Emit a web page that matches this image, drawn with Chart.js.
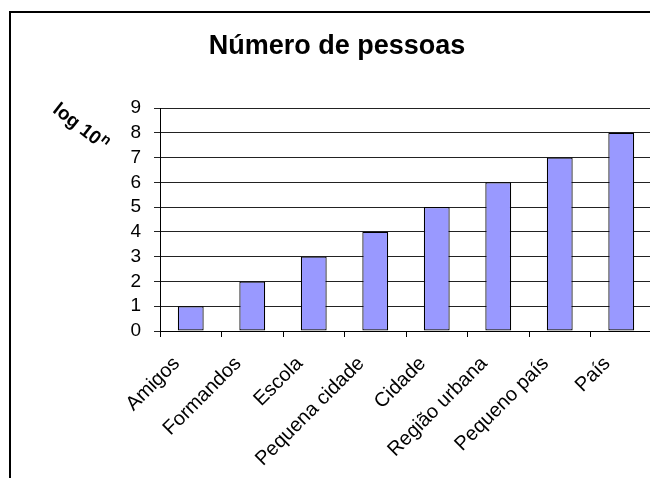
<!DOCTYPE html>
<html>
<head>
<meta charset="utf-8">
<script src="https://cdn.jsdelivr.net/npm/chart.js@4"></script>
<style>
html, body { margin: 0; padding: 0; overflow: hidden; background: #fff; width: 650px; height: 478px; }
#wrap { position: absolute; left: 0; top: 0; width: 670px; height: 500px; }
</style>
</head>
<body>
<div id="wrap"><canvas id="chart" width="670" height="500"></canvas></div>
<script>
// dados
const categories = ['Amigos', 'Formandos', 'Escola', 'Pequena cidade', 'Cidade', 'Região urbana', 'Pequeno país', 'País'];
const values = [1, 2, 3, 4, 5, 6, 7, 8];
const yMin = 0;
const yMax = 9;
const titleText = 'Número de pessoas';
const yLabelText = 'log 10';
const yLabelSup = 'n';

const FONT = "'Liberation Sans', Arial, sans-serif";

// moldura, titulo e rotulo do eixo
const decorPlugin = {
    id: 'decor',
    beforeDraw(chart) {
        const ctx = chart.ctx;
        ctx.save();
        ctx.fillStyle = '#fff';
        ctx.fillRect(0, 0, chart.width, chart.height);
        ctx.restore();
    },
    afterDraw(chart) {
        const ctx = chart.ctx;
        ctx.save();
        // border
        ctx.strokeStyle = '#000';
        ctx.lineWidth = 2;
        ctx.strokeRect(10, 12, 700, 600);

        // title
        ctx.fillStyle = '#000';
        ctx.font = 'bold 27px ' + FONT;
        ctx.textAlign = 'center';
        ctx.textBaseline = 'alphabetic';
        ctx.fillText(titleText, 337, 54);

        // axis label rotated
        ctx.translate(80, 127);
        ctx.rotate(38 * Math.PI / 180);
        ctx.font = 'bold 19px ' + FONT;
        const w1 = ctx.measureText(yLabelText).width;
        ctx.font = 'bold 14px ' + FONT;
        const w2 = ctx.measureText(yLabelSup).width;
        const start = -(w1 + w2) / 2;
        ctx.textAlign = 'left';
        ctx.textBaseline = 'middle';
        ctx.font = 'bold 19px ' + FONT;
        ctx.fillText(yLabelText, start, 0);
        ctx.font = 'bold 14px ' + FONT;
        ctx.fillText(yLabelSup, start + w1 + 1, -6);
        ctx.restore();
    }
};

new Chart(document.getElementById('chart'), {
    type: 'bar',
    data: {
        labels: categories,
        datasets: [{
            data: values,
            backgroundColor: '#9999FF',
            borderColor: '#000',
            borderWidth: 1.2,
            borderSkipped: false,
            barPercentage: 0.42,
            categoryPercentage: 1
        }]
    },
    options: {
        responsive: false,
        animation: false,
        layout: { padding: { top: 108, right: 18, left: 0, bottom: 0 } },
        plugins: {
            legend: { display: false },
            title: { display: false },
            tooltip: { enabled: false }
        },
        scales: {
            x: {
                offset: true,
                grid: {
                    offset: true,
                    drawOnChartArea: false,
                    color: '#000',
                    tickLength: 6
                },
                border: { color: '#000', width: 1 },
                ticks: {
                    color: '#000',
                    font: { family: FONT, size: 20 },
                    minRotation: 45,
                    maxRotation: 45,
                    autoSkip: false,
                    padding: 15,
                    labelOffset: -14
                },
                afterFit(scale) { scale.height = 169; }
            },
            y: {
                min: yMin,
                max: yMax,
                grid: {
                    color: '#222',
                    tickLength: 6
                },
                border: { color: '#000', width: 1 },
                ticks: {
                    stepSize: 1,
                    autoSkip: false,
                    maxTicksLimit: 20,
                    color: '#000',
                    font: { family: FONT, size: 19, lineHeight: 1 },
                    padding: 13
                },
                afterFit(scale) { scale.width = 160; }
            }
        }
    },
    plugins: [decorPlugin]
});
</script>
</body>
</html>
